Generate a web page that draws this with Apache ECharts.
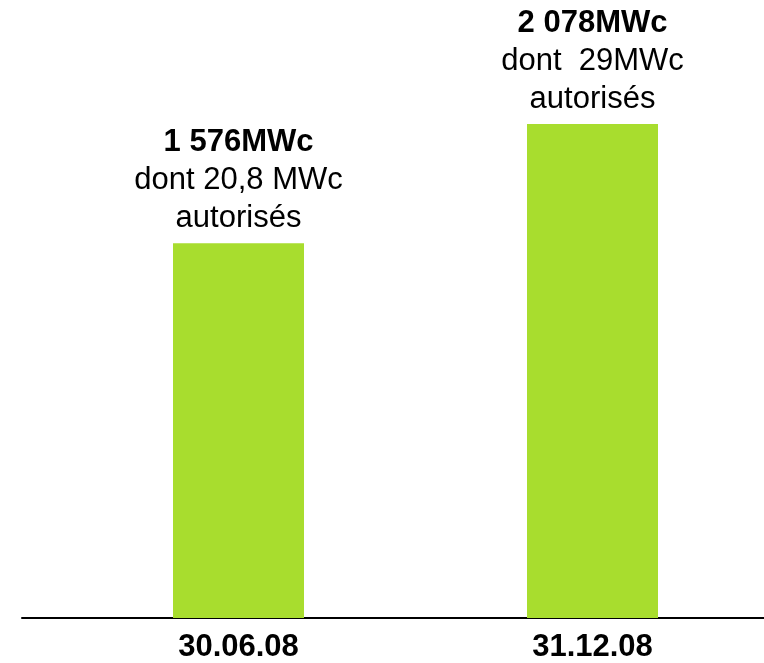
<!DOCTYPE html>
<html>
<head>
<meta charset="utf-8">
<title>MWc</title>
<script src="https://cdn.jsdelivr.net/npm/echarts@6/dist/echarts.min.js"></script>
<style>
  html, body { margin: 0; padding: 0; background: #fff; }
  #chart { width: 764px; height: 663px; }
</style>
</head>
<body>
<div id="chart"></div>
<script>
// values
const categories = ['30.06.08', '31.12.08']
const totals = [1576, 2078]
const totalLabels = ['1 576MWc', '2 078MWc']
const detailLabels = ['dont 20,8 MWc', 'dont  29MWc']
const noteLabels = ['autorisés', 'autorisés']

const FONT = '"Liberation Sans", Arial, sans-serif'

const chart = echarts.init(document.getElementById('chart'))

const option = {
  animation: false,
  textStyle: { fontFamily: FONT },
  grid: [
    // bars: ticks sit on the bar centres
    { left: 238.5, width: 354, top: 95, bottom: 45 },
    // long baseline under the bars
    { left: 22, right: 0, top: 95, bottom: 45 }
  ],
  xAxis: [
    {
      type: 'category',
      gridIndex: 0,
      data: categories,
      boundaryGap: false,
      axisLine: { show: false },
      axisTick: { show: false },
      axisLabel: {
        color: '#000',
        fontFamily: FONT,
        fontSize: 31,
        fontWeight: 'bold',
        margin: 14
      }
    },
    {
      type: 'category',
      gridIndex: 1,
      data: categories,
      axisLine: { show: true, lineStyle: { color: '#000', width: 2 } },
      axisTick: { show: false },
      axisLabel: { show: false }
    }
  ],
  yAxis: [
    { type: 'value', gridIndex: 0, min: 0, max: 2200, show: false },
    { type: 'value', gridIndex: 1, min: 0, max: 2200, show: false }
  ],
  series: [
    {
      type: 'bar',
      xAxisIndex: 0,
      yAxisIndex: 0,
      data: totals,
      barWidth: 131,
      clip: false,
      itemStyle: { color: '#a8dd2e' },
      label: {
        show: true,
        position: 'top',
        distance: 6,
        formatter: p => '{b|' + totalLabels[p.dataIndex] + '}\n{n|' +
          detailLabels[p.dataIndex] + '}\n{n|' + noteLabels[p.dataIndex] + '}',
        rich: {
          b: { fontFamily: FONT, fontSize: 31, fontWeight: 'bold', color: '#000', lineHeight: 38 },
          n: { fontFamily: FONT, fontSize: 31, color: '#000', lineHeight: 38 }
        }
      }
    }
  ]
}

chart.setOption(option)
</script>
</body>
</html>
